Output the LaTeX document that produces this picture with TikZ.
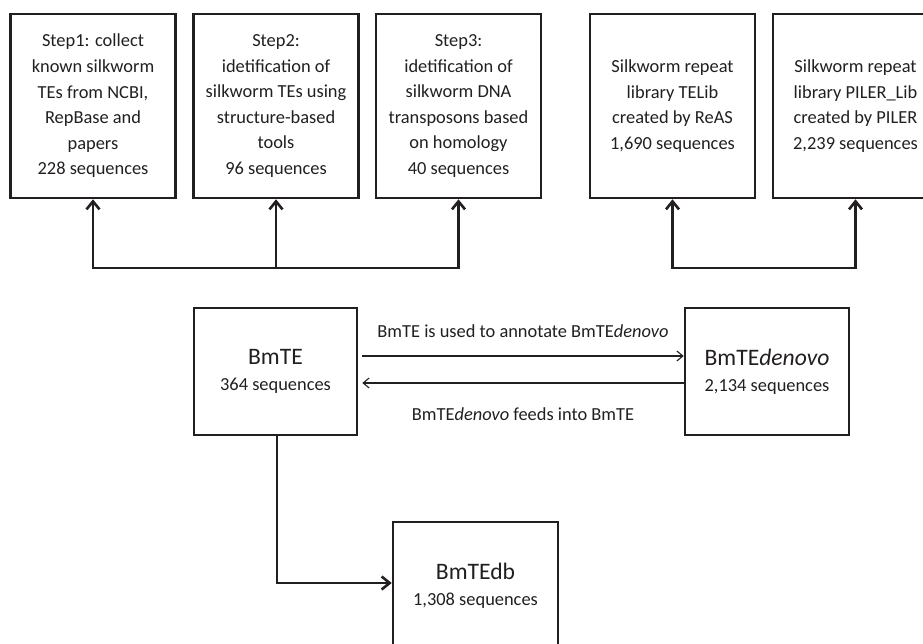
\documentclass[tikz,border=0pt]{standalone}
\usepackage{fontspec}
\setmainfont{Carlito}
\usetikzlibrary{arrows.meta}
\definecolor{ink}{HTML}{231F20}
\tikzset{
  boxA/.style={draw=ink, line width=2.6pt, rectangle, inner sep=0pt,
    minimum width=165pt, minimum height=184pt, align=center, text=ink,
    font=\fontsize{18.4}{25.6}\selectfont},
  boxB/.style={draw=ink, line width=2.6pt, rectangle, inner sep=0pt,
    minimum width=164pt, minimum height=127pt, align=center, text=ink,
    font=\fontsize{18.4}{26}\selectfont},
  conn/.style={draw=ink, line width=2.6pt, line join=miter,
    arrows={-Straight Barb[length=8pt,width=13pt]}},
  connboth/.style={draw=ink, line width=2.6pt, line join=miter,
    arrows={Straight Barb[length=8pt,width=13pt]-Straight Barb[length=8pt,width=13pt]}},
  thinarrow/.style={draw=ink, line width=1.1pt,
    arrows={-Straight Barb[length=6pt,width=10pt]}},
  lbl/.style={text=ink, font=\fontsize{18.4}{22}\selectfont, inner sep=0pt}
}
\newcommand{\ttl}[1]{{\fontsize{23.6}{26}\selectfont #1}}
\begin{document}
\begin{tikzpicture}[x=1pt,y=-1pt]
\clip (0,0) rectangle (923,644);
\useasboundingbox (0,0) rectangle (923,644);
\fill[white] (0,0) rectangle (923,644);

\node[boxA] (b1) at (93,106) {Step1: collect\\known silkworm\\TEs from NCBI,\\RepBase and\\papers\\228 sequences};
\node[boxA] (b2) at (276,106) {Step2:\\idetification of\\silkworm TEs using\\structure-based\\tools\\96 sequences};
\node[boxA] (b3) at (458.5,106) {Step3:\\idetification of\\silkworm DNA\\transposons based\\on homology\\40 sequences};
\node[boxA] (b4) at (672.5,106) {Silkworm repeat\\library TELib\\created by ReAS\\1,690 sequences};
\node[boxA] (b5) at (855.5,106) {Silkworm repeat\\library PILER\_Lib\\created by PILER\\2,239 sequences};

\coordinate (j1) at (276,268);
\coordinate (j2) at (764,268);
\draw[connboth] (b1.south) |- (j1) -| (b3.south);
\draw[conn] (j1) -- (b2.south);
\draw[connboth] (b4.south) |- (j2) -| (b5.south);

\node[boxB, minimum width=163pt] (bmte) at (275.5,371.5) {\ttl{BmTE}\\364 sequences};
\node[boxB] (den) at (767,371.5) {\ttl{BmTE\textit{denovo}}\\2,134 sequences};
\node[boxB, minimum width=165pt, minimum height=128pt] (db) at (475.5,586) {\ttl{BmTEdb}\\1,308 sequences};

\draw[thinarrow] ([yshift=15.5pt,xshift=4pt]bmte.east) -- ([yshift=15.5pt]den.west)
  node[lbl, midway, yshift=25pt] {BmTE is used to annotate BmTE\textit{denovo}};
\draw[thinarrow] ([yshift=-11.5pt]den.west) -- ([yshift=-11.5pt,xshift=4pt]bmte.east)
  node[lbl, midway, yshift=-31pt] {BmTE\textit{denovo} feeds into BmTE};

\draw[conn] ([xshift=1.5pt]bmte.south) |- ([yshift=3pt]db.west);
\end{tikzpicture}
\end{document}
